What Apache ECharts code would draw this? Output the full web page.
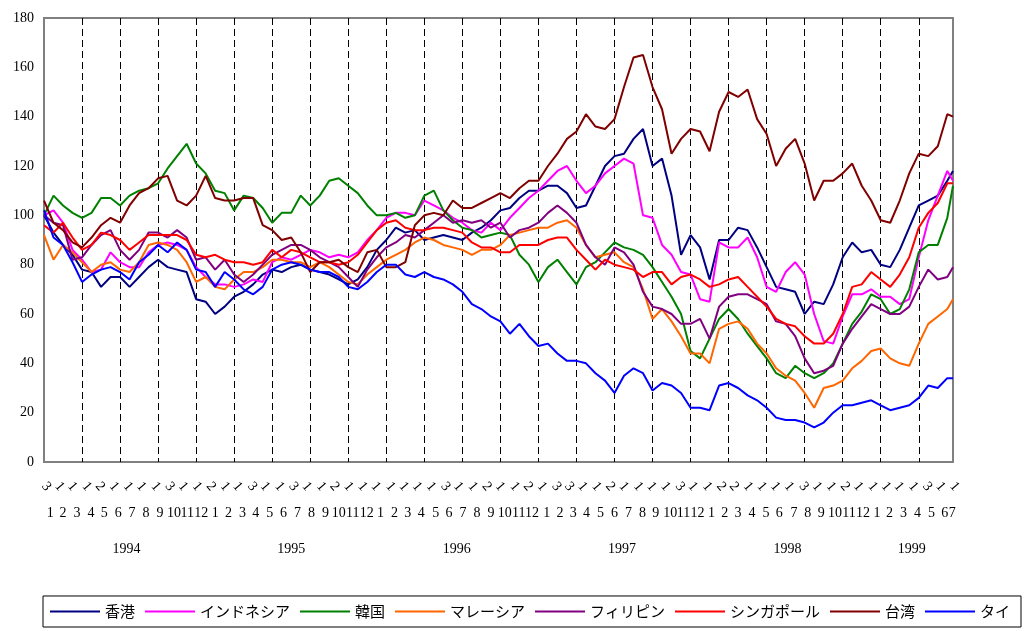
<!DOCTYPE html>
<html>
<head>
<meta charset="utf-8">
<script src="https://cdn.jsdelivr.net/npm/echarts@6/dist/echarts.min.js"></script>
<style>
html,body{margin:0;padding:0;background:#fff;}
#chart{width:1027px;height:631px;}
</style>
</head>
<body>
<div id="chart"></div>
<script>
// ---- series names and colours ----
const seriesNames = ['香港', 'インドネシア', '韓国', 'マレーシア', 'フィリピン', 'シンガポール', '台湾', 'タイ'];
const seriesColors = ['#000080', '#FF00FF', '#008000', '#FF6600', '#800080', '#FF0000', '#800000', '#0000FF'];

// ---- x axis: trading days (weekdays) from 1994-01-03 ----
const startDate = '1994-01-03';
const tradingDayCount = 1435;
const sampleStep = 15;          // one reading every 15 trading days (last reading on final day)
const gridlineEvery = 60;       // dashed vertical lines every 60 trading days

// ---- tick labels ----
const dayTickLabels = [
  '3','1','1','1','2','1','1','1','1','3','1','1',
  '2','1','1','3','1','1','3','1','1','2','1','1',
  '1','1','1','1','1','3','1','1','2','1','1','2',
  '1','3','3','1','1','2','1','1','1','1','3','1',
  '1','2','2','1','1','1','1','3','1','1','2','1',
  '1','1','1','1','3','1','1'
];
const monthTickLabels = [
  '1','2','3','4','5','6','7','8','9','10','11','12',
  '1','2','3','4','5','6','7','8','9','10','11','12',
  '1','2','3','4','5','6','7','8','9','10','11','12',
  '1','2','3','4','5','6','7','8','9','10','11','12',
  '1','2','3','4','5','6','7','8','9','10','11','12',
  '1','2','3','4','5','6','7'
];
const yearTickLabels = ['1994', '1995', '1996', '1997', '1998', '1999'];

// ---- series values (index, readings every 15 trading days) ----
const hongKong = [100,93,88,84,78,77,71,75,75,71, 75,79,82,79,78,77,66,65,60,63,
  67,69,72,76,78,77,79,80,78,77, 76,74,72,74,79,86,90,95,93,94,
  90,91,92,91,90,93,95,98,102,103, 107,110,110,112,112,109,103,104,112,120,
  124,125,131,135,120,123,108,84,92,87, 74,90,90,95,94,87,79,71,70,69,
  60,65,64,72,83,89,85,86,80,79, 86,95,104,106,108,114,118];
const indonesia = [100,102,97,86,82,77,78,85,81,79, 79,85,88,89,88,86,79,75,72,72,
  71,72,74,73,81,83,82,84,86,85, 83,84,83,85,90,94,99,101,101,100,
  106,104,102,99,97,94,93,97,94,99, 103,107,110,114,118,120,114,109,112,117,
  120,123,121,100,99,88,84,77,76,66, 65,89,87,87,91,83,71,69,77,81,
  76,60,49,48,59,68,68,70,67,67, 64,66,83,98,108,118,114];
const korea = [100,108,104,101,99,101,107,107,104,108, 110,111,113,119,124,129,121,117,110,109,
  102,108,107,103,97,101,101,108,104,108, 114,115,112,109,104,100,100,101,99,100,
  108,110,102,98,95,94,91,92,93,92, 84,80,73,79,82,77,72,79,81,85,
  89,87,86,84,79,73,67,60,45,42, 50,58,62,58,52,47,42,36,34,39,
  36,34,36,40,48,56,61,68,66,60, 62,70,85,88,88,99,112];
const malaysia = [92,82,88,85,81,77,80,81,78,77, 81,88,89,88,86,81,73,75,71,70,
  74,77,77,79,82,82,81,81,79,81, 79,76,73,72,76,79,82,84,86,89,
  91,90,88,87,86,84,86,86,88,92, 93,94,95,95,97,98,95,88,83,84,
  85,81,79,70,58,62,57,51,44,44, 40,54,56,57,54,48,44,38,35,33,
  28,22,30,31,33,38,41,45,46,42, 40,39,48,56,59,62,66];
const philippines = [100,97,96,82,83,88,92,94,86,82, 86,93,93,91,94,91,82,83,78,82,
  76,73,76,80,84,86,88,88,86,83, 81,79,75,71,78,83,87,89,92,91,
  94,97,100,97,98,97,98,95,97,91, 94,95,97,101,104,101,97,88,83,80,
  87,85,80,69,63,62,60,56,56,58, 50,63,67,68,68,66,64,57,56,51,
  42,36,37,39,48,54,59,64,62,60, 60,63,71,78,74,75,79];
const singapore = [96,93,97,91,86,88,93,92,90,86, 89,92,92,92,92,90,84,83,84,82,
  81,81,80,81,86,83,86,85,83,81, 81,80,81,84,89,94,97,98,95,94,
  94,95,95,94,93,89,87,87,85,85, 88,88,88,90,91,91,86,82,78,82,
  80,79,78,75,77,77,72,75,76,74, 71,72,74,75,71,67,63,58,56,55,
  51,48,48,52,60,71,72,77,74,71, 76,83,95,101,105,113,113];
const taiwan = [106,97,94,89,87,91,96,99,97,104, 109,111,115,116,106,104,108,116,107,106,
  106,107,107,96,94,90,91,85,77,81, 81,82,79,77,85,86,79,79,81,96,
  100,101,100,106,103,103,105,107,109,107, 111,114,114,120,125,131,134,141,136,135,
  139,152,164,165,152,143,125,131,135,134, 126,142,150,148,151,139,133,120,127,131,
  121,106,114,114,117,121,112,106,98,97, 106,117,125,124,128,141,140];
const thailand = [102,91,88,81,73,76,78,79,77,74, 81,84,88,85,89,86,78,77,71,77,
  74,70,68,71,78,80,81,80,78,77, 77,75,71,70,73,77,80,80,76,75,
  77,75,74,72,69,64,62,59,57,52, 56,51,47,48,44,41,41,40,36,33,
  28,35,38,36,29,32,31,28,22,22, 21,31,32,30,27,25,22,18,17,17,
  16,14,16,20,23,23,24,25,23,21, 22,23,26,31,30,34,34];

const seriesValues = [hongKong, indonesia, korea, malaysia, philippines, singapore, taiwan, thailand];

// ---- build category axis (weekdays) ----
const categories = [];
const monthOfIndex = [];
(function () {
  const d = new Date(startDate + 'T00:00:00Z');
  while (categories.length < tradingDayCount) {
    const wd = d.getUTCDay();
    if (wd !== 0 && wd !== 6) {
      categories.push(d.toISOString().slice(0, 10));
      monthOfIndex.push(d.getUTCFullYear() * 12 + d.getUTCMonth());
    }
    d.setUTCDate(d.getUTCDate() + 1);
  }
})();

// month groups and year groups
const monthGroups = [];
const yearGroups = [];
for (let i = 0; i < categories.length; i++) {
  if (i === 0 || monthOfIndex[i] !== monthOfIndex[i - 1]) monthGroups.push({ start: i, end: i });
  else monthGroups[monthGroups.length - 1].end = i;
  const y = categories[i].slice(0, 4);
  if (i === 0 || y !== categories[i - 1].slice(0, 4)) yearGroups.push({ start: i, end: i });
  else yearGroups[yearGroups.length - 1].end = i;
}
const dayLabelAt = new Map();
const monthLabelAt = new Map();
const yearLabelAt = new Map();
monthGroups.forEach((g, m) => {
  dayLabelAt.set(g.start, dayTickLabels[m]);
  monthLabelAt.set(Math.floor((g.start + g.end) / 2), monthTickLabels[m]);
});
yearGroups.forEach((g, y) => {
  yearLabelAt.set(Math.round((g.start + g.end) / 2), yearTickLabels[y]);
});

function toPairs(values) {
  return values.map((v, k) => [Math.min(k * sampleStep, tradingDayCount - 1), v]);
}

const serifFont = '"Liberation Serif", "Times New Roman", serif';

function labelAxis(map, margin, rotate) {
  return {
    type: 'category',
    data: categories,
    boundaryGap: false,
    position: 'bottom',
    axisLine: { show: false },
    axisTick: { show: false },
    splitLine: { show: false },
    axisLabel: {
      show: true,
      interval: (idx) => map.has(idx),
      formatter: (val, idx) => map.get(idx) || '',
      margin: margin,
      rotate: rotate || 0,
      fontFamily: serifFont,
      fontSize: 14,
      color: '#000'
    }
  };
}

const xAxes = [
  labelAxis(dayLabelAt, 22, -50),
  labelAxis(monthLabelAt, 44, 0),
  labelAxis(yearLabelAt, 80, 0)
];
xAxes[0].splitLine = {
  show: true,
  interval: (idx) => idx > 0 && idx % gridlineEvery === 0,
  lineStyle: { color: '#000', width: 1, type: [7, 4] }
};

const chart = echarts.init(document.getElementById('chart'), null, { renderer: 'canvas' });
chart.setOption({
  animation: false,
  backgroundColor: '#fff',
  grid: {
    left: 44, right: 74, top: 18, bottom: 169,
    show: true, borderColor: '#808080', borderWidth: 2,
    backgroundColor: 'transparent',
    outerBoundsMode: 'none'
  },
  xAxis: xAxes,
  yAxis: {
    type: 'value', min: 0, max: 180, interval: 20,
    axisLine: { show: false }, axisTick: { show: false }, splitLine: { show: false },
    axisLabel: { margin: 10, fontFamily: serifFont, fontSize: 14, color: '#000' }
  },
  legend: {
    data: seriesNames,
    left: 43, bottom: 4,
    orient: 'horizontal',
    icon: 'rect', itemWidth: 50, itemHeight: 2, itemGap: 10,
    padding: [8, 11, 8, 7],
    borderColor: '#000', borderWidth: 1,
    textStyle: { fontFamily: '"Noto Sans CJK JP", sans-serif', fontSize: 15, color: '#000' }
  },
  series: seriesNames.map((name, s) => ({
    name: name,
    type: 'line',
    xAxisIndex: 0,
    data: toPairs(seriesValues[s]),
    showSymbol: false,
    symbol: 'none',
    color: seriesColors[s],
    lineStyle: { color: seriesColors[s], width: 2 },
    emphasis: { disabled: true }
  }))
});
</script>
</body>
</html>
